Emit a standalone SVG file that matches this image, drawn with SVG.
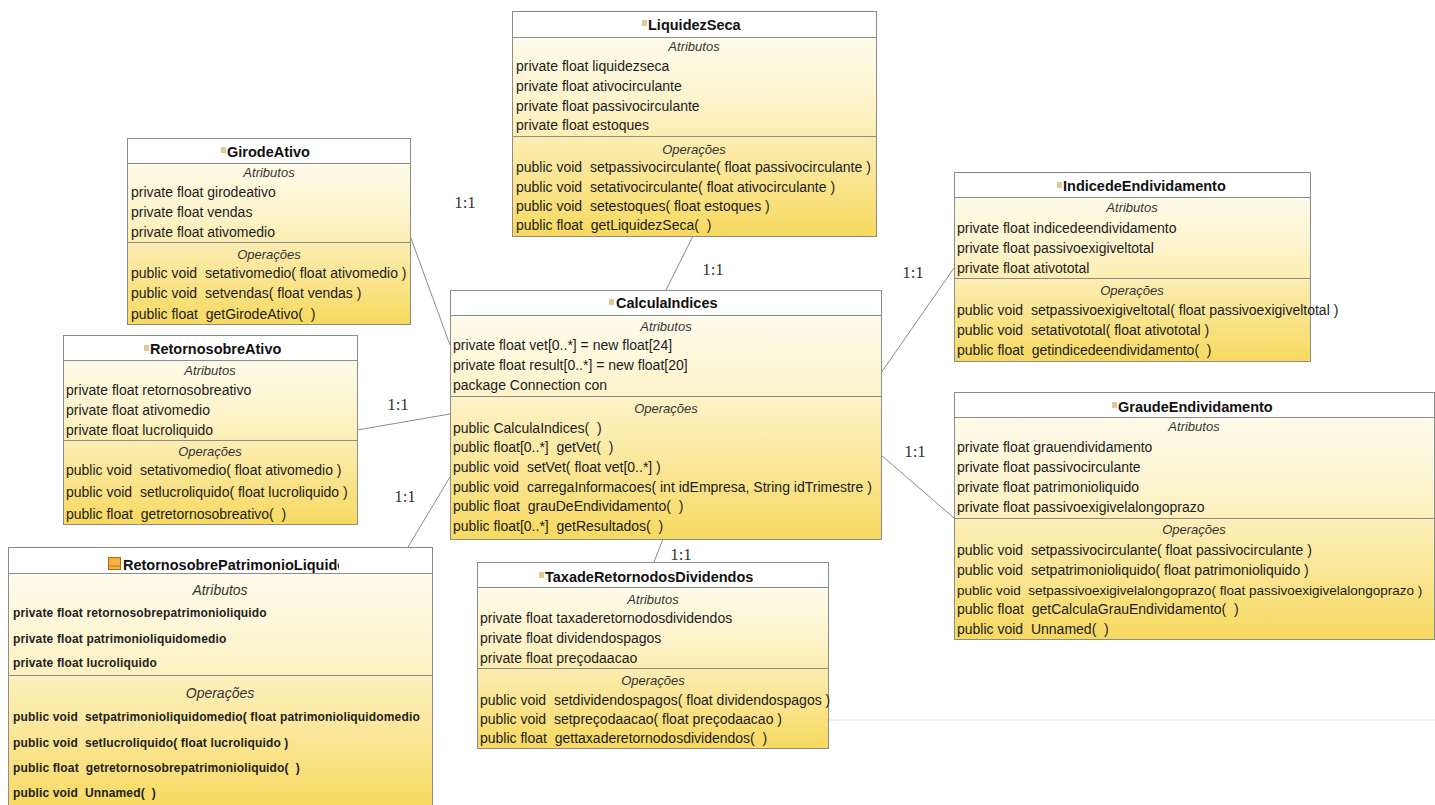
<svg xmlns="http://www.w3.org/2000/svg" width="1435" height="805" viewBox="0 0 1435 805">
  <defs>
    <linearGradient id="body" x1="0" y1="0" x2="0" y2="1">
      <stop offset="0" stop-color="#fffef7"/>
      <stop offset="0.4" stop-color="#fdf4cc"/>
      <stop offset="0.7" stop-color="#fbe79a"/>
      <stop offset="1" stop-color="#f7d95f"/>
    </linearGradient>
    <clipPath id="clipRpl">
      <rect x="8" y="547" width="424" height="260"/>
    </clipPath>
    <clipPath id="clipRplTitle">
      <rect x="8" y="547" width="331" height="26"/>
    </clipPath>
  </defs>
  <style>
    text { white-space: pre; }
    .box { fill: url(#body); stroke: #8c8c8c; stroke-width: 1; }
    .hdr { fill: #ffffff; stroke: #8c8c8c; stroke-width: 1; }
    .sep { stroke: #8c8c8c; stroke-width: 1; }
    .icon { fill: #dccb96; }
    .title { font-family: "Liberation Sans", Arial, sans-serif; font-weight: bold; font-size: 14.5px; fill: #111; }
    .sec { font-family: "Liberation Sans", Arial, sans-serif; font-style: italic; font-size: 13px; fill: #333; text-anchor: middle; }
    .m { font-family: "Liberation Sans", Arial, sans-serif; font-size: 14px; fill: #1c1c1c; }
    .ms { font-size: 13.5px; }
    .mb { font-family: "Liberation Sans", Arial, sans-serif; font-size: 12px; font-weight: bold; letter-spacing: 0.15px; fill: #222; }
    .secb { font-family: "Liberation Sans", Arial, sans-serif; font-style: italic; font-size: 14px; fill: #333; text-anchor: middle; }
    .conn { stroke: #8a8a8a; stroke-width: 1; fill: none; }
    .mult { font-family: "Liberation Serif", "Times New Roman", serif; font-size: 17px; fill: #333; text-anchor: middle; }
  </style>

  <rect width="1435" height="805" fill="#ffffff"/>
  <line x1="828" y1="720" x2="1435" y2="720" stroke="#e2e2e2" stroke-width="1"/>

  <!-- associations between the index classes and CalculaIndices -->
  <g id="connectors">
    <line class="conn" x1="409" y1="233" x2="450" y2="345"/>
    <text class="mult" x="465" y="208">1:1</text>
    <line class="conn" x1="357" y1="430" x2="450" y2="414"/>
    <text class="mult" x="398" y="410">1:1</text>
    <line class="conn" x1="408" y1="547" x2="450" y2="477"/>
    <text class="mult" x="405" y="502">1:1</text>
    <line class="conn" x1="693" y1="236" x2="666" y2="290"/>
    <text class="mult" x="713" y="275">1:1</text>
    <line class="conn" x1="954" y1="268" x2="881" y2="373"/>
    <text class="mult" x="913" y="278">1:1</text>
    <line class="conn" x1="881" y1="455" x2="954" y2="518"/>
    <text class="mult" x="915" y="457">1:1</text>
    <line class="conn" x1="654" y1="562" x2="663" y2="539"/>
    <text class="mult" x="681" y="560">1:1</text>
  </g>

  <!-- LiquidezSeca -->
  <g id="LiquidezSeca">
    <rect class="box" x="512.5" y="11.5" width="364" height="225"/>
    <rect class="hdr" x="512.5" y="11.5" width="364" height="26"/>
    <rect class="icon" x="642" y="20" width="5" height="6"/>
    <text class="title" x="648" y="30">LiquidezSeca</text>
    <text class="sec" x="694" y="51">Atributos</text>
    <text class="m" x="516" y="71">private float liquidezseca</text>
    <text class="m" x="516" y="91">private float ativocirculante</text>
    <text class="m" x="516" y="111">private float passivocirculante</text>
    <text class="m" x="516" y="130">private float estoques</text>
    <line class="sep" x1="512.5" y1="136.5" x2="876.5" y2="136.5"/>
    <text class="sec" x="694" y="154">Operações</text>
    <text class="m" x="516" y="172">public void  setpassivocirculante( float passivocirculante )</text>
    <text class="m" x="516" y="192">public void  setativocirculante( float ativocirculante )</text>
    <text class="m" x="516" y="211">public void  setestoques( float estoques )</text>
    <text class="m" x="516" y="230">public float  getLiquidezSeca(  )</text>
  </g>

  <!-- GirodeAtivo -->
  <g id="GirodeAtivo">
    <rect class="box" x="127.5" y="138.5" width="283" height="186"/>
    <rect class="hdr" x="127.5" y="138.5" width="283" height="25"/>
    <rect class="icon" x="221" y="147" width="5" height="6"/>
    <text class="title" x="227" y="157">GirodeAtivo</text>
    <text class="sec" x="269" y="177">Atributos</text>
    <text class="m" x="131" y="197">private float girodeativo</text>
    <text class="m" x="131" y="217">private float vendas</text>
    <text class="m" x="131" y="237">private float ativomedio</text>
    <line class="sep" x1="127.5" y1="242.5" x2="410.5" y2="242.5"/>
    <text class="sec" x="269" y="259">Operações</text>
    <text class="m" x="131" y="278">public void  setativomedio( float ativomedio )</text>
    <text class="m" x="131" y="298">public void  setvendas( float vendas )</text>
    <text class="m" x="131" y="319">public float  getGirodeAtivo(  )</text>
  </g>

  <!-- RetornosobreAtivo -->
  <g id="RetornosobreAtivo">
    <rect class="box" x="63.5" y="335.5" width="294" height="189"/>
    <rect class="hdr" x="63.5" y="335.5" width="294" height="25"/>
    <rect class="icon" x="144" y="345" width="5" height="6"/>
    <text class="title" x="150" y="354">RetornosobreAtivo</text>
    <text class="sec" x="210" y="375">Atributos</text>
    <text class="m" x="66" y="395">private float retornosobreativo</text>
    <text class="m" x="66" y="415">private float ativomedio</text>
    <text class="m" x="66" y="435">private float lucroliquido</text>
    <line class="sep" x1="63.5" y1="440.5" x2="357.5" y2="440.5"/>
    <text class="sec" x="210" y="456">Operações</text>
    <text class="m" x="66" y="475">public void  setativomedio( float ativomedio )</text>
    <text class="m" x="66" y="497">public void  setlucroliquido( float lucroliquido )</text>
    <text class="m" x="66" y="519">public float  getretornosobreativo(  )</text>
  </g>

  <!-- CalculaIndices -->
  <g id="CalculaIndices">
    <rect class="box" x="450.5" y="290.5" width="431" height="249"/>
    <rect class="hdr" x="450.5" y="290.5" width="431" height="25"/>
    <rect class="icon" x="609" y="299" width="5" height="6"/>
    <text class="title" x="616" y="308">CalculaIndices</text>
    <text class="sec" x="666" y="331">Atributos</text>
    <text class="m" x="453" y="350">private float vet[0..*] = new float[24]</text>
    <text class="m" x="453" y="370">private float result[0..*] = new float[20]</text>
    <text class="m" x="453" y="390">package Connection con</text>
    <line class="sep" x1="450.5" y1="396.5" x2="881.5" y2="396.5"/>
    <text class="sec" x="666" y="413">Operações</text>
    <text class="m" x="453" y="433">public CalculaIndices(  )</text>
    <text class="m" x="453" y="452">public float[0..*]  getVet(  )</text>
    <text class="m" x="453" y="472">public void  setVet( float vet[0..*] )</text>
    <text class="m" x="453" y="492">public void  carregaInformacoes( int idEmpresa, String idTrimestre )</text>
    <text class="m" x="453" y="511">public float  grauDeEndividamento(  )</text>
    <text class="m" x="453" y="531">public float[0..*]  getResultados(  )</text>
  </g>

  <!-- IndicedeEndividamento -->
  <g id="IndicedeEndividamento">
    <rect class="box" x="954.5" y="172.5" width="356" height="189"/>
    <rect class="hdr" x="954.5" y="172.5" width="356" height="25"/>
    <rect class="icon" x="1057" y="182" width="5" height="6"/>
    <text class="title" x="1063" y="191">IndicedeEndividamento</text>
    <text class="sec" x="1132" y="212">Atributos</text>
    <text class="m" x="957" y="233">private float indicedeendividamento</text>
    <text class="m" x="957" y="253">private float passivoexigiveltotal</text>
    <text class="m" x="957" y="273">private float ativototal</text>
    <line class="sep" x1="954.5" y1="278.5" x2="1310.5" y2="278.5"/>
    <text class="sec" x="1132" y="295">Operações</text>
    <text class="m" x="957" y="315">public void  setpassivoexigiveltotal( float passivoexigiveltotal )</text>
    <text class="m" x="957" y="335">public void  setativototal( float ativototal )</text>
    <text class="m" x="957" y="355">public float  getindicedeendividamento(  )</text>
  </g>

  <!-- GraudeEndividamento -->
  <g id="GraudeEndividamento">
    <rect class="box" x="954.5" y="392.5" width="480" height="247"/>
    <rect class="hdr" x="954.5" y="392.5" width="480" height="25"/>
    <rect class="icon" x="1112" y="402" width="5" height="6"/>
    <text class="title" x="1118" y="412">GraudeEndividamento</text>
    <text class="sec" x="1194" y="431">Atributos</text>
    <text class="m" x="957" y="452">private float grauendividamento</text>
    <text class="m" x="957" y="472">private float passivocirculante</text>
    <text class="m" x="957" y="492">private float patrimonioliquido</text>
    <text class="m" x="957" y="512">private float passivoexigivelalongoprazo</text>
    <line class="sep" x1="954.5" y1="518.5" x2="1434.5" y2="518.5"/>
    <text class="sec" x="1194" y="534">Operações</text>
    <text class="m" x="957" y="555">public void  setpassivocirculante( float passivocirculante )</text>
    <text class="m" x="957" y="575">public void  setpatrimonioliquido( float patrimonioliquido )</text>
    <text class="m ms" x="957" y="595">public void  setpassivoexigivelalongoprazo( float passivoexigivelalongoprazo )</text>
    <text class="m" x="957" y="614">public float  getCalculaGrauEndividamento(  )</text>
    <text class="m" x="957" y="634">public void  Unnamed(  )</text>
  </g>

  <!-- TaxadeRetornodosDividendos -->
  <g id="TaxadeRetornodosDividendos">
    <rect class="box" x="477.5" y="562.5" width="351" height="186"/>
    <rect class="hdr" x="477.5" y="562.5" width="351" height="25"/>
    <rect class="icon" x="539" y="572" width="5" height="6"/>
    <text class="title" x="545" y="582">TaxadeRetornodosDividendos</text>
    <text class="sec" x="653" y="604">Atributos</text>
    <text class="m" x="480" y="623">private float taxaderetornodosdividendos</text>
    <text class="m" x="480" y="643">private float dividendospagos</text>
    <text class="m" x="480" y="663">private float preçodaacao</text>
    <line class="sep" x1="477.5" y1="668.5" x2="828.5" y2="668.5"/>
    <text class="sec" x="653" y="685">Operações</text>
    <text class="m" x="480" y="705">public void  setdividendospagos( float dividendospagos )</text>
    <text class="m" x="480" y="724">public void  setpreçodaacao( float preçodaacao )</text>
    <text class="m" x="480" y="743">public float  gettaxaderetornodosdividendos(  )</text>
  </g>

  <!-- RetornosobrePatrimonioLiquido -->
  <g id="RetornosobrePatrimonioLiquido">
    <rect class="box" x="8.5" y="547.5" width="424" height="262"/>
    <rect class="hdr" x="8.5" y="547.5" width="424" height="26"/>
    <rect x="108.5" y="557.5" width="12" height="12" fill="#f5b23c" stroke="#b36b10" stroke-width="1"/>
    <line x1="109" y1="566" x2="120" y2="566" stroke="#c0751a" stroke-width="1"/>
    <text class="title" x="123" y="570" clip-path="url(#clipRplTitle)">RetornosobrePatrimonioLiquido</text>
    <text class="secb" x="220" y="595">Atributos</text>
    <text class="mb" x="13" y="617">private float retornosobrepatrimonioliquido</text>
    <text class="mb" x="13" y="643">private float patrimonioliquidomedio</text>
    <text class="mb" x="13" y="667">private float lucroliquido</text>
    <line class="sep" x1="8.5" y1="675.5" x2="432.5" y2="675.5"/>
    <text class="secb" x="220" y="698">Operações</text>
    <text class="mb" x="13" y="721" clip-path="url(#clipRpl)">public void  setpatrimonioliquidomedio( float patrimonioliquidomedio</text>
    <text class="mb" x="13" y="747">public void  setlucroliquido( float lucroliquido )</text>
    <text class="mb" x="13" y="772">public float  getretornosobrepatrimonioliquido(  )</text>
    <text class="mb" x="13" y="797">public void  Unnamed(  )</text>
  </g>
</svg>
